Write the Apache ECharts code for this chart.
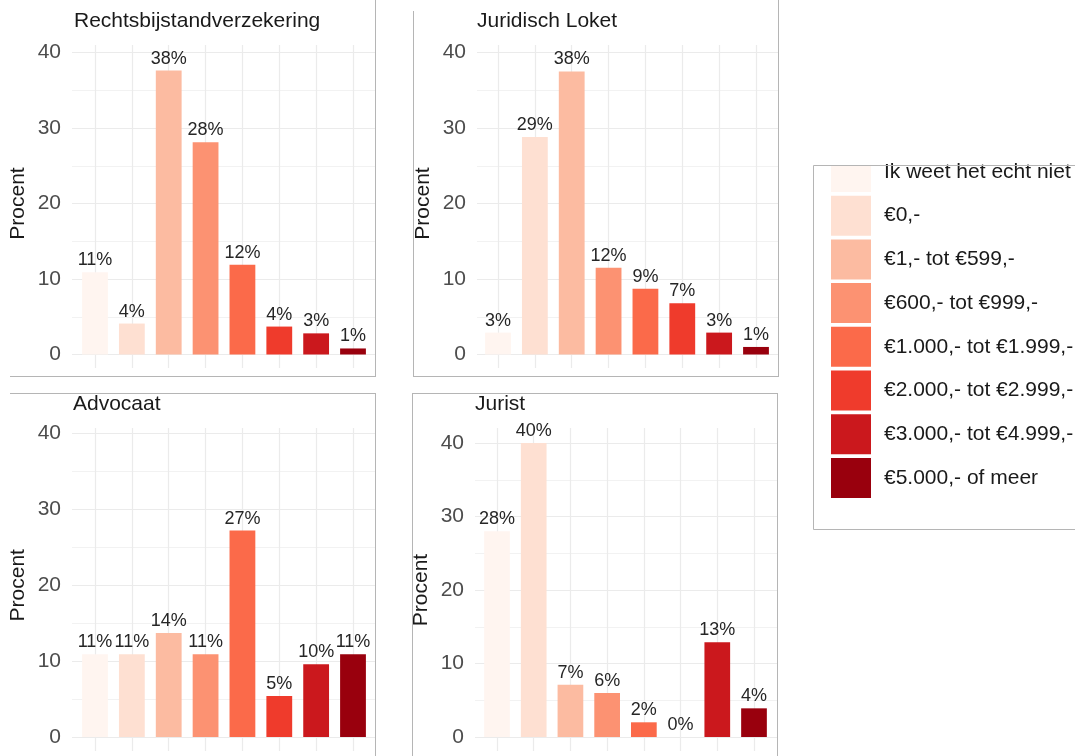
<!DOCTYPE html>
<html>
<head>
<meta charset="utf-8">
<title>Kosten rechtshulp per hulpverlener</title>
<script src="https://cdn.jsdelivr.net/npm/echarts@6/dist/echarts.min.js"></script>
<style>
  html, body { margin: 0; padding: 0; background: #ffffff; }
  #chart { width: 1075px; height: 756px; }
</style>
</head>
<body>
<div id="chart"></div>
<script>
// Price brackets (legend order, also x order in every panel)
const categories = [
  'Ik weet het echt niet',
  '€0,-',
  '€1,- tot €599,-',
  '€600,- tot €999,-',
  '€1.000,- tot €1.999,-',
  '€2.000,- tot €2.999,-',
  '€3.000,- tot €4.999,-',
  '€5.000,- of meer'
];

// Panel titles
const panelTitles = ['Rechtsbijstandverzekering', 'Juridisch Loket', 'Advocaat', 'Jurist'];

// Percentages per bracket, one array per panel
const rechtsbijstand = [10.9, 4.1, 37.6, 28.1, 11.9, 3.7, 2.8, 0.8];
const juridischLoket = [2.9, 28.8, 37.5, 11.5, 8.7, 6.8, 2.9, 1.0];
const advocaat = [10.9, 10.9, 13.7, 10.9, 27.2, 5.4, 9.6, 10.9];
const jurist = [28.0, 40.0, 7.1, 6.0, 2.0, 0.0, 12.9, 3.9];

// Y axis ticks
const yMin = 0;
const yMax = 40;
const yStep = 10;

// Reds palette
const palette = ['#FFF5F0', '#FEE0D2', '#FCBBA1', '#FC9272', '#FB6A4A', '#EF3B2C', '#CB181D', '#99000D'];

const panelValues = [rechtsbijstand, juridischLoket, advocaat, jurist];

// Pixel layout of each facet panel
const layout = [
  { plotLeft: 72,  plotRight: 375, y40: 52.5,  y0: 354.5, top: 45,  bottom: 368, firstBar: 95,  lastBar: 353, titleX: 74,  titleY: 20 },
  { plotLeft: 477, plotRight: 778, y40: 52.5,  y0: 354.5, top: 45,  bottom: 368, firstBar: 498, lastBar: 756, titleX: 477, titleY: 20 },
  { plotLeft: 72,  plotRight: 375, y40: 433.5, y0: 737,   top: 428, bottom: 751, firstBar: 95,  lastBar: 353, titleX: 73,  titleY: 403 },
  { plotLeft: 475, plotRight: 777, y40: 443,   y0: 737,   top: 428, bottom: 751, firstBar: 497, lastBar: 754, titleX: 475, titleY: 403 }
];

const FONT = '"Liberation Sans", Arial, Helvetica, sans-serif';
const GRID_MAJOR = '#ebebeb';
const GRID_MINOR = '#f2f2f2';
const BORDER = '#b5b5b5';

const grids = [], xAxes = [], yAxes = [], series = [], titles = [];

layout.forEach(function (L, p) {
  const pxPerUnit = (L.y0 - L.y40) / (yMax - yMin);
  const band = (L.lastBar - L.firstBar) / (categories.length - 1);

  // Background grid: horizontal gridlines + y labels
  grids.push({ left: L.plotLeft, width: L.plotRight - L.plotLeft, top: L.y40, height: L.y0 - L.y40 });
  xAxes.push({ type: 'value', gridIndex: 2 * p, show: false, min: 0, max: 1 });
  yAxes.push({
    type: 'value', gridIndex: 2 * p, min: yMin, max: yMax, interval: yStep,
    name: 'Procent', nameLocation: 'middle', nameGap: 43, nameRotate: 90,
    nameTextStyle: { fontFamily: FONT, fontSize: 21, color: '#1a1a1a' },
    axisLine: { show: false }, axisTick: { show: false },
    axisLabel: { fontFamily: FONT, fontSize: 21, color: '#4d4d4d', margin: 11 },
    splitLine: { show: true, lineStyle: { color: GRID_MAJOR, width: 1.2 } },
    minorTick: { show: false, splitNumber: 2 },
    minorSplitLine: { show: true, lineStyle: { color: GRID_MINOR, width: 1 } }
  });

  // Bar grid: spans the full panel height, vertical gridlines at category centres
  grids.push({
    left: L.firstBar - band / 2, width: band * categories.length,
    top: L.top, height: L.bottom - L.top
  });
  xAxes.push({
    type: 'category', gridIndex: 2 * p + 1, data: categories,
    axisLine: { show: false, onZero: false },
    axisLabel: { show: false, interval: 0 },
    axisTick: { show: true, inside: true, alignWithLabel: true, interval: 0, length: L.bottom - L.top,
                lineStyle: { color: GRID_MAJOR, width: 1.2 } },
    splitLine: { show: false }
  });
  yAxes.push({
    type: 'value', gridIndex: 2 * p + 1, show: false,
    min: yMin - (L.bottom - L.y0) / pxPerUnit,
    max: yMax + (L.y40 - L.top) / pxPerUnit,
    splitLine: { show: false }
  });

  categories.forEach(function (cat, c) {
    series.push({
      type: 'bar', name: cat, stack: 'panel' + p,
      xAxisIndex: 2 * p + 1, yAxisIndex: 2 * p + 1,
      barWidth: '70%',
      itemStyle: { color: palette[c] },
      label: {
        show: true, position: 'top', distance: 3,
        fontFamily: FONT, fontSize: 18, color: '#262626',
        formatter: function (d) { return Math.round(d.value) + '%'; }
      },
      emphasis: { disabled: true },
      data: panelValues[p].map(function (v, i) { return i === c ? v : '-'; })
    });
  });

  titles.push({
    text: panelTitles[p], left: L.titleX, top: L.titleY - 9, padding: 0,
    textStyle: { fontFamily: FONT, fontSize: 21, fontWeight: 'normal', color: '#1a1a1a' }
  });
});

function hLine(x1, x2, y) {
  return { type: 'line', z: 100, shape: { x1: x1, y1: y, x2: x2, y2: y }, style: { stroke: BORDER, lineWidth: 1 } };
}
function vLine(x, y1, y2) {
  return { type: 'line', z: 100, shape: { x1: x, y1: y1, x2: x, y2: y2 }, style: { stroke: BORDER, lineWidth: 1 } };
}

const chart = echarts.init(document.getElementById('chart'), null, { renderer: 'canvas' });
chart.setOption({
  animation: false,
  backgroundColor: '#ffffff',
  title: titles,
  grid: grids,
  xAxis: xAxes,
  yAxis: yAxes,
  legend: {
    orient: 'vertical', left: 831, top: 152, padding: 0,
    itemWidth: 40, itemHeight: 40, itemGap: 3.7, icon: 'rect',
    selectedMode: false,
    data: categories,
    textStyle: { fontFamily: FONT, fontSize: 21, color: '#1a1a1a', padding: [4, 0, 0, 8] }
  },
  series: series,
  graphic: [
    // legend frame (top edge trims the first key)
    { type: 'rect', z: 99, shape: { x: 812, y: 0, width: 64, height: 165 }, style: { fill: '#ffffff' } },
    { type: 'rect', z: 100, shape: { x: 813.5, y: 165.5, width: 300, height: 364 }, style: { fill: 'none', stroke: BORDER, lineWidth: 1 } },
    // panel frames
    hLine(10, 376, 376.5), vLine(375.5, 0, 376.5),
    vLine(413.5, 11, 376.5), hLine(413, 779, 376.5), vLine(778.5, 0, 376.5),
    hLine(10, 376, 393.5), vLine(375.5, 393.5, 756),
    vLine(412.5, 393.5, 756), hLine(412, 778, 393.5), vLine(777.5, 393.5, 756)
  ]
});
</script>
</body>
</html>
